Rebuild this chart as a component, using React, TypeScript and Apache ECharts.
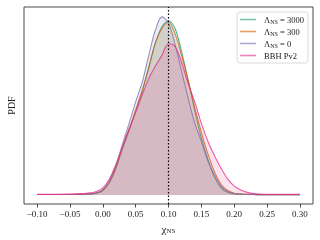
import React, { useEffect, useRef } from "react";
import * as echarts from "echarts";

const xs = [-0.10, -0.05, -0.03, -0.02, -0.01, 0.00, 0.01, 0.02, 0.03, 0.04, 0.05, 0.06, 0.07, 0.08, 0.09, 0.10, 0.11, 0.12, 0.13, 0.14, 0.15, 0.16, 0.17, 0.18, 0.19, 0.20, 0.21, 0.22, 0.23, 0.24, 0.25, 0.30];

const lam3000 = [0.003, 0.003, 0.004, 0.005, 0.010, 0.025, 0.070, 0.150, 0.260, 0.360, 0.470, 0.580, 0.710, 0.850, 0.940, 0.972, 0.930, 0.800, 0.640, 0.470, 0.320, 0.200, 0.100, 0.040, 0.015, 0.006, 0.004, 0.003, 0.003, 0.002, 0.002, 0.002];
const lam300 = [0.003, 0.003, 0.004, 0.005, 0.011, 0.027, 0.072, 0.155, 0.265, 0.365, 0.475, 0.585, 0.715, 0.850, 0.930, 0.965, 0.900, 0.780, 0.640, 0.490, 0.350, 0.230, 0.130, 0.060, 0.025, 0.010, 0.005, 0.004, 0.003, 0.002, 0.002, 0.002];
const lam0 = [0.003, 0.003, 0.004, 0.006, 0.012, 0.030, 0.080, 0.170, 0.285, 0.400, 0.520, 0.630, 0.780, 0.920, 0.995, 0.960, 0.840, 0.690, 0.540, 0.400, 0.300, 0.190, 0.110, 0.050, 0.020, 0.009, 0.005, 0.004, 0.003, 0.002, 0.002, 0.002];
const bbh = [0.004, 0.005, 0.008, 0.012, 0.020, 0.040, 0.090, 0.170, 0.270, 0.370, 0.460, 0.560, 0.650, 0.720, 0.780, 0.845, 0.830, 0.740, 0.620, 0.520, 0.400, 0.300, 0.220, 0.150, 0.090, 0.050, 0.028, 0.015, 0.008, 0.005, 0.004, 0.004];

const seriesNames = ["{g|Λ}{s|NS}{g| = 3000}", "{g|Λ}{s|NS}{g| = 300}", "{g|Λ}{s|NS}{g| = 0}", "{g|BBH Pv2}"];
const seriesData = [lam3000, lam300, lam0, bbh];
const colors = ["#1b9e77", "#d95f02", "#7570b3", "#e7298a"];
const xTicks = [-0.10, -0.05, 0.00, 0.05, 0.10, 0.15, 0.20, 0.25, 0.30];
const injectedValue = 0.10;

const FONT = "Liberation Serif";

export default function App() {
  const ref = useRef<HTMLDivElement>(null);
  useEffect(() => {
    if (!ref.current) return;
    const chart = echarts.init(ref.current, null, { renderer: "svg" });
    const rich = {
      g: { fontFamily: FONT, fontSize: 8.5, color: "#222" },
      s: { fontFamily: FONT, fontSize: 6, color: "#222", verticalAlign: "bottom", padding: [4, 0, 0, 0] },
    };
    const series: any[] = seriesData.map((vals, i) => ({
      name: seriesNames[i],
      type: "line",
      data: xs.map((x, j) => [x, vals[j]]),
      smooth: 0.35,
      symbol: "none",
      lineStyle: { color: colors[i], width: 1.1, opacity: 0.75 },
      itemStyle: { color: colors[i], opacity: 0.6 },
      areaStyle: { color: colors[i], opacity: 0.13 },
      z: 2 + i,
    }));
    series[0].markLine = {
      silent: true,
      symbol: "none",
      label: { show: false },
      lineStyle: { color: "#000", type: [1.5, 2], width: 1.2 },
      data: [{ xAxis: injectedValue }],
      z: 10,
    };
    chart.setOption({
      animation: false,
      grid: { left: 24, right: 7, top: 7, bottom: 36, show: true, borderColor: "#333", borderWidth: 0.9, backgroundColor: "transparent", outerBoundsMode: "none" } as any,
      legend: {
        orient: "vertical",
        right: 12,
        top: 12,
        backgroundColor: "#fff",
        borderColor: "#d0d0d0",
        borderWidth: 0.8,
        borderRadius: 3,
        padding: [3, 4, 3, 3],
        itemGap: 2.5,
        itemWidth: 16,
        itemHeight: 1.6,
        icon: "rect",
        textStyle: { rich, padding: [0, 0, 0, 3] },
        data: seriesNames,
      },
      xAxis: {
        type: "value",
        min: -0.12,
        max: 0.32,
        splitLine: { show: false },
        axisLine: { show: false, onZero: false },
        axisTick: { show: true, length: 3.5, lineStyle: { color: "#333", width: 0.9 }, customValues: xTicks } as any,
        axisLabel: {
          customValues: xTicks,
          fontFamily: FONT,
          fontSize: 9,
          color: "#222",
          margin: 5,
          formatter: (v: number) => (v < 0 ? "\u2212" + Math.abs(v).toFixed(2) : v.toFixed(2)),
        } as any,
        name: "{g|χ}{s|NS}",
        nameLocation: "middle",
        nameGap: 19,
        nameTextStyle: { rich: { g: { fontFamily: FONT, fontSize: 11, color: "#222" }, s: { fontFamily: FONT, fontSize: 7, color: "#222", verticalAlign: "bottom", padding: [4, 0, 0, 0] } } },
      },
      yAxis: {
        type: "value",
        min: -0.05,
        max: 1.05,
        splitLine: { show: false },
        axisLine: { show: false },
        axisTick: { show: false },
        axisLabel: { show: false },
        name: "PDF",
        nameLocation: "middle",
        nameGap: 8,
        nameTextStyle: { fontFamily: FONT, fontSize: 10, color: "#222" },
      },
      series,
    });
    return () => chart.dispose();
  }, []);
  return <div ref={ref} style={{ width: 320, height: 240, position: "fixed", left: 0, top: 0 }} />;
}
